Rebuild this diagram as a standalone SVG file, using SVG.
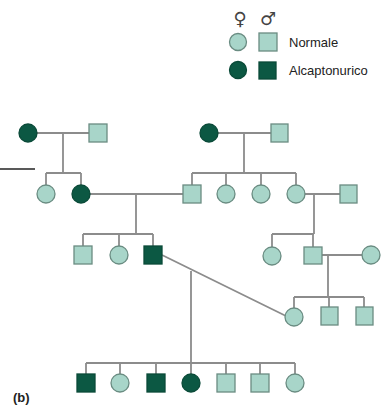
<svg xmlns="http://www.w3.org/2000/svg" width="382" height="407" viewBox="0 0 382 407">
  <style>
    .n { fill: #a8d5c9; stroke: #6a8c82; stroke-width: 1.3; }
    .a { fill: #0c5843; stroke: #0a4a38; stroke-width: 1.3; }
    .ln { fill: none; stroke: #8c8c8c; stroke-width: 1.8; }
    .lbl { font-family: "Liberation Sans", Arial, sans-serif; font-size: 13px; fill: #222; }
    .sym { font-family: "DejaVu Sans", sans-serif; font-size: 18px; fill: #444; text-anchor: middle; }
  </style>

  <!-- legend -->
  <g id="legend">
    <text class="sym" x="240" y="25">♀</text>
    <text class="sym" x="268" y="25">♂</text>
    <circle class="n" cx="238" cy="42" r="8.5"/>
    <rect class="n" x="259" y="33" width="18" height="18"/>
    <text class="lbl" x="289" y="47">Normale</text>
    <circle class="a" cx="238" cy="70" r="8.5"/>
    <rect class="a" x="259" y="62" width="17" height="17"/>
    <text class="lbl" x="289" y="75">Alcaptonurico</text>
  </g>

  <!-- connectors -->
  <g id="connectors">
    <line x1="0" y1="169" x2="35" y2="169" stroke="#222" stroke-width="1.6"/>
    <!-- generation I, left family -->
    <path class="ln" d="M28 133 H98 M63 133 V173 M46 173 H81 M46 173 V185 M81 173 V185"/>
    <!-- generation I, right family -->
    <path class="ln" d="M209 133 H280 M244 133 V173 M192 173 H296 M192 173 V185 M226 173 V185 M261 173 V185 M296 173 V185"/>
    <!-- generation II couples -->
    <path class="ln" d="M81 194 H192 M136 194 V234 M83 234 H153 M83 234 V246 M119 234 V246 M153 234 V246"/>
    <path class="ln" d="M296 194 H349 M314 194 V234 M272 234 H314 M272 234 V247 M313 234 V247"/>
    <!-- generation III right couple -->
    <path class="ln" d="M313 255 H371 M328 255 V297 M294 297 H364 M294 297 V308 M329 297 V307 M364 297 V307"/>
    <!-- affected male with his partner -->
    <path class="ln" d="M162 255 L286 316 M191 271 V363 M86 363 H295 M86 363 V374 M120 363 V374 M156 363 V374 M191 363 V374 M226 363 V374 M260 363 V374 M295 363 V374"/>
  </g>

  <!-- generation I -->
  <g id="I-1"><circle class="a" cx="28" cy="133" r="9"/></g>
  <g id="I-2"><rect class="n" x="89" y="124" width="18" height="18"/></g>
  <g id="I-3"><circle class="a" cx="209" cy="133" r="9"/></g>
  <g id="I-4"><rect class="n" x="271" y="124" width="17" height="18"/></g>

  <!-- generation II -->
  <g id="II-1"><circle class="n" cx="46" cy="194" r="9"/></g>
  <g id="II-2"><circle class="a" cx="81" cy="194" r="9"/></g>
  <g id="II-3"><rect class="n" x="183" y="185" width="18" height="18"/></g>
  <g id="II-4"><circle class="n" cx="226" cy="194" r="9"/></g>
  <g id="II-5"><circle class="n" cx="261" cy="194" r="9"/></g>
  <g id="II-6"><circle class="n" cx="296" cy="194" r="9"/></g>
  <g id="II-7"><rect class="n" x="340" y="185" width="17" height="18"/></g>

  <!-- generation III -->
  <g id="III-1"><rect class="n" x="74" y="246" width="18" height="18"/></g>
  <g id="III-2"><circle class="n" cx="119" cy="255" r="9"/></g>
  <g id="III-3"><rect class="a" x="144" y="246" width="18" height="18"/></g>
  <g id="III-4"><circle class="n" cx="272" cy="256" r="9"/></g>
  <g id="III-5"><rect class="n" x="304" y="247" width="18" height="17"/></g>
  <g id="III-6"><circle class="n" cx="371" cy="255" r="9"/></g>

  <!-- generation IV, right -->
  <g id="IV-1"><circle class="n" cx="294" cy="317" r="9"/></g>
  <g id="IV-2"><rect class="n" x="321" y="307" width="17" height="18"/></g>
  <g id="IV-3"><rect class="n" x="356" y="307" width="17" height="18"/></g>

  <!-- generation V -->
  <g id="V-1"><rect class="a" x="77" y="374" width="18" height="18"/></g>
  <g id="V-2"><circle class="n" cx="120" cy="383" r="9"/></g>
  <g id="V-3"><rect class="a" x="147" y="374" width="18" height="18"/></g>
  <g id="V-4"><circle class="a" cx="191" cy="383" r="9"/></g>
  <g id="V-5"><rect class="n" x="217" y="374" width="18" height="18"/></g>
  <g id="V-6"><rect class="n" x="251" y="374" width="18" height="18"/></g>
  <g id="V-7"><circle class="n" cx="295" cy="383" r="9"/></g>

  <text x="13" y="402" font-family="Liberation Sans, Arial, sans-serif" font-size="13" font-weight="bold" fill="#222">(b)</text>
</svg>
